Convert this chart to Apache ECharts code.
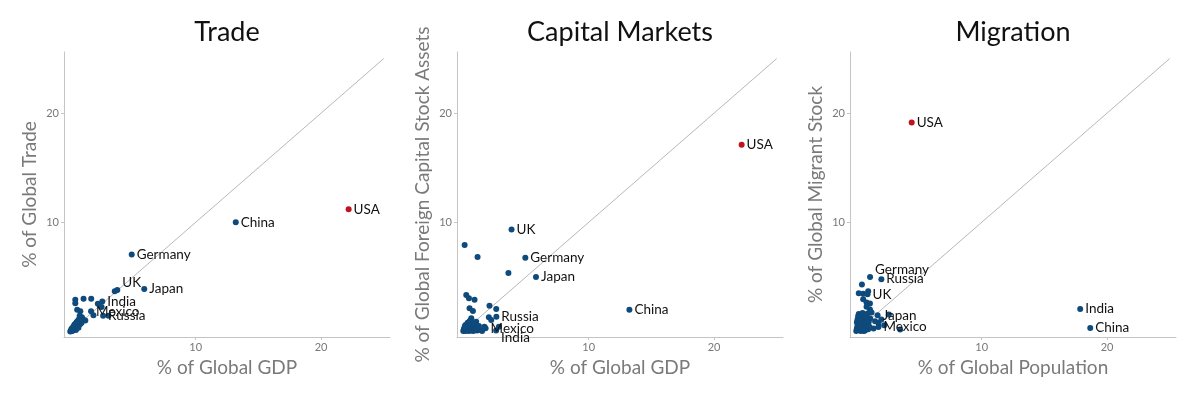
<!DOCTYPE html>
<html>
<head>
<meta charset="utf-8">
<script src="https://cdn.jsdelivr.net/npm/echarts@6/dist/echarts.min.js"></script>
<style>
  html, body { margin: 0; padding: 0; background: #fff; }
  #chart { width: 1192px; height: 396px; }
</style>
</head>
<body>
<div id="chart"></div>
<script>
// panel titles / axis names
const titles = ['Trade', 'Capital Markets', 'Migration']
const xNames = ['% of Global GDP', '% of Global GDP', '% of Global Population']
const yNames = ['% of Global Trade', '% of Global Foreign Capital Stock Assets', '% of Global Migrant Stock']
const tickValues = [10, 20]
const diagonal = [[0, 0], [25, 25]]

// labelled countries, same order in every panel
const countries = ['USA', 'China', 'Germany', 'Japan', 'UK', 'India', 'Mexico', 'Russia']

// Trade
const tradeLabelled = [[22.2, 11.2], [13.2, 10.0], [4.9, 7.05], [5.9, 3.9], [3.75, 3.8], [2.55, 2.75], [1.66, 1.85], [2.62, 1.44]]
const tradeOthers = [
  [0.4, 2.9], [0.4, 2.6], [1.06, 3.0], [1.67, 3.0], [2.2, 2.55], [2.5, 2.25], [3.05, 1.45], [0.55, 2.0],
  [0.8, 1.85], [1.85, 1.5], [3.55, 3.7], [0.93, 1.3], [0.66, 1.07], [1.0, 1.15], [1.2, 1.0], [0.75, 1.45],
  [0.0, 0.0], [0.05, 0.1], [0.1, 0.05], [0.15, 0.2], [0.2, 0.1], [0.25, 0.3], [0.3, 0.2], [0.35, 0.4],
  [0.4, 0.3], [0.45, 0.5], [0.5, 0.4], [0.55, 0.6], [0.6, 0.5], [0.65, 0.75], [0.7, 0.6], [0.75, 0.85],
  [0.8, 0.7], [0.85, 0.95], [0.2, 0.35], [0.3, 0.55], [0.4, 0.7], [0.5, 0.85], [0.6, 0.95], [0.1, 0.25],
  [0.45, 0.15], [0.65, 0.35], [0.9, 0.8], [0.35, 0.65], [0.55, 0.9], [0.25, 0.45], [0.7, 1.05], [0.15, 0.05]
]

// Capital Markets
const capitalLabelled = [[22.2, 17.1], [13.25, 2.0], [4.95, 6.75], [5.8, 5.0], [3.85, 9.35], [2.62, 0.1], [1.78, 0.3], [2.64, 1.36]]
const capitalOthers = [
  [0.11, 7.92], [1.14, 6.83], [3.6, 5.36], [0.24, 3.35], [0.45, 3.05], [0.9, 2.9], [0.5, 2.13], [0.77, 1.88],
  [2.09, 2.37], [2.63, 2.07], [2.04, 1.31], [2.23, 1.06], [2.84, 0.45], [1.69, 0.45], [1.03, 0.9], [0.64, 1.22],
  [0.0, 0.05], [0.05, 0.2], [0.1, 0.1], [0.15, 0.35], [0.2, 0.05], [0.25, 0.25], [0.3, 0.5], [0.35, 0.15],
  [0.4, 0.35], [0.45, 0.05], [0.5, 0.6], [0.55, 0.2], [0.6, 0.4], [0.65, 0.1], [0.7, 0.75], [0.75, 0.3],
  [0.8, 0.05], [0.85, 0.5], [0.9, 0.2], [1.0, 0.35], [1.1, 0.1], [1.2, 0.25], [1.35, 0.15], [1.5, 0.05],
  [0.2, 0.6], [0.35, 0.8], [0.5, 0.95], [0.15, 0.55], [0.6, 1.05], [0.95, 0.65], [1.25, 0.5], [0.4, 0.7], [0.1, 0.4]
]

// Migration
const migrationLabelled = [[4.42, 19.15], [18.66, 0.33], [1.1, 5.0], [1.7, 1.5], [0.9, 3.42], [17.86, 2.07], [1.77, 0.42], [2.0, 4.8]]
const migrationOthers = [
  [0.45, 4.3], [0.2, 3.5], [0.55, 3.45], [0.95, 3.7], [0.55, 2.95], [0.82, 2.66], [1.09, 2.57], [0.82, 2.26],
  [1.09, 2.02], [1.22, 1.74], [0.9, 1.65], [1.11, 1.19], [1.77, 0.79], [2.6, 1.56], [1.38, 0.28], [3.5, 0.18],
  [2.23, 0.58], [1.5, 0.95], [2.0, 1.1],
  [0.0, 0.05], [0.05, 0.3], [0.1, 0.6], [0.15, 0.15], [0.2, 0.9], [0.25, 0.4], [0.3, 1.2], [0.35, 0.05],
  [0.4, 0.7], [0.45, 1.5], [0.5, 0.25], [0.55, 1.0], [0.6, 0.5], [0.65, 1.3], [0.7, 0.1], [0.75, 0.8],
  [0.8, 0.35], [0.85, 1.05], [0.9, 0.6], [0.95, 0.2], [1.0, 0.9], [1.05, 0.45], [0.1, 1.1], [0.2, 1.6],
  [0.3, 0.2], [0.05, 0.85], [0.5, 1.7], [0.15, 1.4], [0.6, 0.05], [0.35, 1.0], [0.8, 1.5], [0.25, 0.65]
]

const panels = [
  { labelled: tradeLabelled, others: tradeOthers, nudge: { UK: -7 } },
  { labelled: capitalLabelled, others: capitalOthers, nudge: { India: 7 } },
  { labelled: migrationLabelled, others: migrationOthers, nudge: { Germany: -7 } }
]

const FONT = 'Lato, "Open Sans", sans-serif'
const BLUE = '#0e4a7b'
const RED = '#c0121f'
const gridLefts = [64, 457, 850]

const grid = gridLefts.map(l => ({ left: l, top: 52, width: 326, height: 285 }))

const title = titles.map((t, i) => ({
  text: t,
  left: gridLefts[i] + 163,
  top: 19,
  textAlign: 'center',
  padding: 0,
  textStyle: { fontFamily: FONT, fontSize: 27, fontWeight: 'normal', color: '#111' }
}))

const axisCommon = {
  type: 'value',
  nameLocation: 'middle',
  nameTextStyle: { fontFamily: FONT, fontSize: 19, color: '#7a7a7a' },
  splitLine: { show: false },
  axisLine: { show: true, onZero: false, lineStyle: { color: '#c4c4c4', width: 1 } },
  axisTick: { show: true, length: 3, customValues: tickValues, lineStyle: { color: '#c4c4c4' } },
  axisLabel: { customValues: tickValues, fontFamily: FONT, fontSize: 11, color: '#777', margin: 5 }
}

const xAxis = xNames.map((n, i) => Object.assign({}, axisCommon, {
  gridIndex: i, name: n, nameGap: 13, min: -0.5, max: 25.5
}))
const yAxis = yNames.map((n, i) => Object.assign({}, axisCommon, {
  gridIndex: i, name: n, nameGap: 25, min: -0.5, max: 25.6
}))

const series = []
panels.forEach((p, i) => {
  series.push({
    type: 'line',
    xAxisIndex: i, yAxisIndex: i,
    data: diagonal,
    symbol: 'none',
    silent: true,
    z: 1,
    lineStyle: { color: '#b8b8b8', width: 1 }
  })
  const items = p.others.map(v => ({ value: v }))
  p.labelled.forEach((v, k) => {
    const name = countries[k]
    items.push({
      value: v,
      name: name,
      itemStyle: name === 'USA' ? { color: RED } : undefined,
      label: {
        show: true,
        position: [8, 3 + (p.nudge[name] || 0)],
        align: 'left',
        verticalAlign: 'middle',
        formatter: '{b}',
        fontFamily: FONT,
        fontSize: 13.5,
        color: '#111'
      }
    })
  })
  series.push({
    type: 'scatter',
    xAxisIndex: i, yAxisIndex: i,
    symbolSize: 6,
    z: 3,
    itemStyle: { color: BLUE, opacity: 1 },
    labelLayout: { hideOverlap: false },
    data: items
  })
})

const chart = echarts.init(document.getElementById('chart'), null, { renderer: 'canvas' })
chart.setOption({
  animation: false,
  backgroundColor: '#fff',
  title: title,
  grid: grid,
  xAxis: xAxis,
  yAxis: yAxis,
  series: series
})
</script>
</body>
</html>
